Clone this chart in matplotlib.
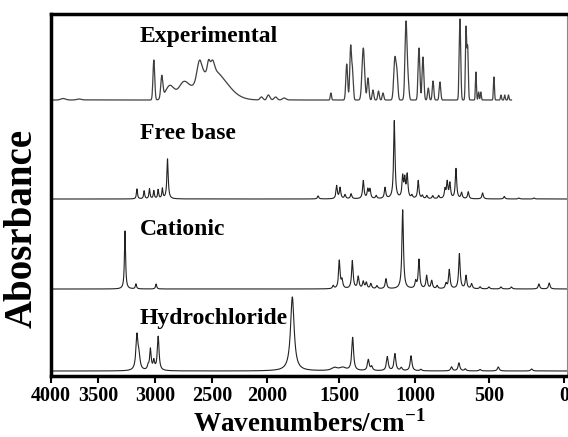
import numpy as np
import matplotlib
matplotlib.use('Agg')
from matplotlib import pyplot as plt

plt.rcParams['font.family'] = 'Liberation Serif'
plt.rcParams['font.weight'] = 'bold'
plt.rcParams['mathtext.fontset'] = 'custom'
plt.rcParams['mathtext.rm'] = 'Liberation Serif:bold'
plt.rcParams['mathtext.bf'] = 'Liberation Serif:bold'

# band lists: centre (cm-1), height, fwhm (cm-1)
exp_pos = [3870, 3700, 3010, 2940, 2870, 2750, 2500, 2610, 2530, 2495, 2050, 1990, 1940, 1880,
           1556, 1449, 1423, 1410, 1340, 1309, 1276, 1240, 1210, 1132, 1118, 1059, 1045, 973, 946,
           910, 878, 831, 696, 655, 644, 588, 570, 555, 467, 420, 395, 370]
exp_h = [1.5, 1, 40, 22, 14, 14, 30, 19, 10, 10, 3, 5, 3, 2,
         7, 36, 54, 26, 52, 22, 10, 9, 7, 42, 22, 78, 16, 52, 43,
         12, 19, 18, 81, 72, 52, 28, 8, 8, 23, 5, 5, 5]
exp_w = [60, 60, 18, 22, 90, 100, 300, 50, 25, 40, 30, 25, 25, 30,
         10, 14, 14, 12, 20, 14, 12, 12, 12, 18, 14, 16, 14, 14, 14,
         12, 12, 12, 12, 10, 10, 8, 8, 8, 8, 8, 8, 8]

fb_pos = [3158, 3095, 3048, 3010, 2972, 2935, 2890, 1645, 1516, 1493, 1460, 1420, 1340, 1310,
          1296, 1255, 1197, 1136, 1081, 1067, 1051, 1020, 978, 950, 920, 880, 840, 797, 782,
          764, 723, 685, 640, 543, 398, 300, 200]
fb_h = [10, 8, 10, 8, 9, 10, 40, 3, 13, 11, 4, 5, 18, 9,
        9, 3, 11, 78, 21, 18, 23, 3, 18, 3, 3, 3, 3, 9, 16,
        15, 30, 6, 7, 6, 2.5, 1, 1]

cat_pos = [3263, 3167, 2990, 1540, 1498, 1480, 1412, 1373, 1340, 1320, 1290, 1250, 1191, 1081,
           995, 973, 921, 887, 850, 790, 768, 700, 655, 617, 560, 500, 420, 350, 167, 98]
cat_h = [58, 5, 5, 3, 28, 8, 28, 12, 7, 6, 5, 3, 10, 79,
         7, 29, 13, 8, 3, 5, 19, 35, 13, 5, 2, 2, 2, 2, 5, 6]

hcl_pos = [3158, 3140, 3060, 3040, 3010, 2972, 1824, 1530, 1475, 1410, 1307, 1285, 1182, 1132,
           1090, 1026, 960, 753, 703, 660, 560, 438, 215]
hcl_h = [35, 12, 4, 21, 9, 34, 74, 3, 3, 33, 11, 4, 14, 17,
         3, 15, 1.5, 4, 8, 2, 1.5, 4, 2]
hcl_w = [22, 20, 16, 16, 16, 18, 30, 50, 50, 14, 14, 14, 14, 14,
         14, 14, 14, 14, 14, 14, 14, 14, 14]

labels = ['Experimental', 'Free base', 'Cationic', 'Hydrochloride']
offsets = [276, 177, 87, 5]

# the instrument axis is not linear: 2000-0 is stretched
tick_wn = [-500, 0, 500, 1000, 1500, 2000, 2500, 3000, 3500, 4000, 4500]
tick_px = [-75, 0, 75, 149, 225, 297, 352, 409, 466, 513, 560]


def fwd(w):
    return np.interp(w, tick_wn, tick_px)


def inv(u):
    return np.interp(u, tick_px, tick_wn)


def gauss(x, pos, h, w):
    y = np.zeros_like(x)
    for p, a, f in zip(pos, h, w):
        y += a * np.exp(-4 * np.log(2) * ((x - p) / f) ** 2)
    return y


def lor(x, pos, h, w):
    y = np.zeros_like(x)
    for p, a, f in zip(pos, h, w):
        y += a / (1 + (2 * (x - p) / f) ** 2)
    return y


x = np.linspace(-20, 4000, 12000)
xe = x[x >= 350]

fig = plt.figure(figsize=(5.68, 4.37), dpi=100)
ax = fig.add_axes([51 / 568, 61 / 437, 516 / 568, 362 / 437])
ax.set_xscale('function', functions=(fwd, inv))

ax.plot(xe, offsets[0] + gauss(xe, exp_pos, exp_h, exp_w), color='#404040', lw=0.9)
ax.plot(x, offsets[1] + lor(x, fb_pos, fb_h, [14 if p == 2890 else 11 for p in fb_pos]),
        color='#222222', lw=0.8)
ax.plot(x, offsets[2] + lor(x, cat_pos, cat_h, [12] * len(cat_pos)), color='#222222', lw=0.8)
ax.plot(x, offsets[3] + lor(x, hcl_pos, hcl_h, hcl_w), color='#222222', lw=0.8)

ax.set_xlim(4000, -20)
ax.set_ylim(0, 362)
ax.set_xticks([4000, 3500, 3000, 2500, 2000, 1500, 1000, 500, 0])
ax.set_xticklabels(['4000', '3500', '3000', '2500', '2000', '1500', '1000', '500', '0'])
ax.set_yticks([])
ax.tick_params(axis='x', direction='out', length=5, width=1.5, labelsize=14.5, pad=2)

for side in ['left', 'bottom', 'top']:
    ax.spines[side].set_linewidth(2.5)
ax.spines['right'].set_linewidth(0.8)
ax.spines['right'].set_color('#888888')

text_y = [0.939, 0.671, 0.406, 0.160]
for lab, ty in zip(labels, text_y):
    ax.text(0.172, ty, lab, transform=ax.transAxes, fontsize=17, fontweight='bold',
            ha='left', va='center')

ax.set_xlabel(r'Wavenumbers/cm$^{\mathbf{-1}}$', fontsize=19.5, fontweight='bold', labelpad=3)
fig.text(22 / 568, 1 - 228 / 437, 'Abosrbance', rotation=90, fontsize=28,
         fontweight='bold', ha='center', va='center')

plt.savefig('out.png', dpi=100)
